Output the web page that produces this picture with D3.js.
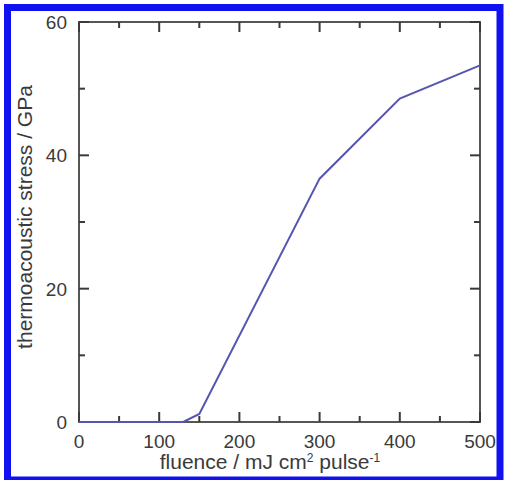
<html>
<head>
    <script src="https://cdn.jsdelivr.net/npm/d3@7"></script>
    <style>
        body { margin: 0; background: #fff; }
        text { font-family: "Liberation Sans", Arial, sans-serif; fill: #3a3a3a; }
    </style>
</head>
<body>
<script>
    var width = 506;
    var height = 480;

    // values
    var fluence = [0, 130, 150, 300, 400, 500];
    var stress = [0, 0, 1.2, 36.5, 48.5, 53.5];
    var xTicks = [0, 100, 200, 300, 400, 500];
    var xMinor = [50, 150, 250, 350, 450];
    var yTicks = [0, 20, 40, 60];
    var yMinor = [10, 30, 50];

    var margin = { left: 79, right: 26, top: 22, bottom: 58 };

    const svg = d3.select("body").append("svg")
        .attr("width", width)
        .attr("height", height);

    // blue frame round the whole figure (bottom edge is cut by the image)
    svg.append("rect")
        .attr("x", 7.5).attr("y", 7.5)
        .attr("width", 492.5).attr("height", 472.5)
        .attr("fill", "none")
        .attr("stroke", "#1010f0")
        .attr("stroke-width", 7);

    var x = d3.scaleLinear([0, 500], [margin.left, width - margin.right]);
    var y = d3.scaleLinear([0, 60], [height - margin.bottom, margin.top]);

    var frameColor = "#444";
    var bottomY = y(0), topY = y(60), leftX = x(0), rightX = x(500);

    // plot frame
    svg.append("rect")
        .attr("x", leftX).attr("y", topY)
        .attr("width", rightX - leftX).attr("height", bottomY - topY)
        .attr("fill", "none")
        .attr("stroke", frameColor)
        .attr("stroke-width", 1.8);

    // inward ticks on all four sides, as thin filled rects
    var xTickData = xTicks.map(v => ({ v: v, len: 10 })).concat(xMinor.map(v => ({ v: v, len: 6 })));
    var yTickData = yTicks.map(v => ({ v: v, len: 10 })).concat(yMinor.map(v => ({ v: v, len: 6 })));

    var tg = svg.append("g").attr("fill", "#3a3a3a");
    tg.selectAll(".xb").data(xTickData).join("rect").attr("class", "xb")
        .attr("x", d => x(d.v) - 1).attr("y", d => bottomY - d.len)
        .attr("width", 2).attr("height", d => d.len);
    tg.selectAll(".xt").data(xTickData).join("rect").attr("class", "xt")
        .attr("x", d => x(d.v) - 1).attr("y", topY)
        .attr("width", 2).attr("height", d => d.len);
    tg.selectAll(".yl").data(yTickData).join("rect").attr("class", "yl")
        .attr("x", leftX).attr("y", d => y(d.v) - 1)
        .attr("width", d => d.len).attr("height", 2);
    tg.selectAll(".yr").data(yTickData).join("rect").attr("class", "yr")
        .attr("x", d => rightX - d.len).attr("y", d => y(d.v) - 1)
        .attr("width", d => d.len).attr("height", 2);

    // tick labels
    svg.append("g").selectAll("text")
        .data(xTicks)
        .join("text")
            .attr("x", d => x(d))
            .attr("y", bottomY + 26)
            .attr("text-anchor", "middle")
            .style("font-size", "19px")
            .text(d => d);

    svg.append("g").selectAll("text")
        .data(yTicks)
        .join("text")
            .attr("x", leftX - 12)
            .attr("y", d => y(d) + 7)
            .attr("text-anchor", "end")
            .style("font-size", "19px")
            .text(d => d);

    var pts = fluence.map((f, i) => [f, stress[i]]);

    svg.append("path")
        .datum(pts)
        .attr("fill", "none")
        .attr("stroke", "#5656b0")
        .attr("stroke-width", 2)
        .attr("d", d3.line().x(d => x(d[0])).y(d => y(d[1])));

    // axis titles
    var xt = svg.append("text")
        .attr("x", 270).attr("y", 469)
        .attr("text-anchor", "middle")
        .style("font-size", "21px");
    xt.append("tspan").text("fluence / mJ cm");
    xt.append("tspan").attr("dy", -7).style("font-size", "12px").text("2");
    xt.append("tspan").attr("dy", 7).text(" pulse");
    xt.append("tspan").attr("dy", -7).style("font-size", "12px").text("-1");

    svg.append("text")
        .attr("transform", `translate(32,217) rotate(-90)`)
        .attr("text-anchor", "middle")
        .style("font-size", "21px")
        .text("thermoacoustic stress / GPa");
</script>
</body>
</html>
